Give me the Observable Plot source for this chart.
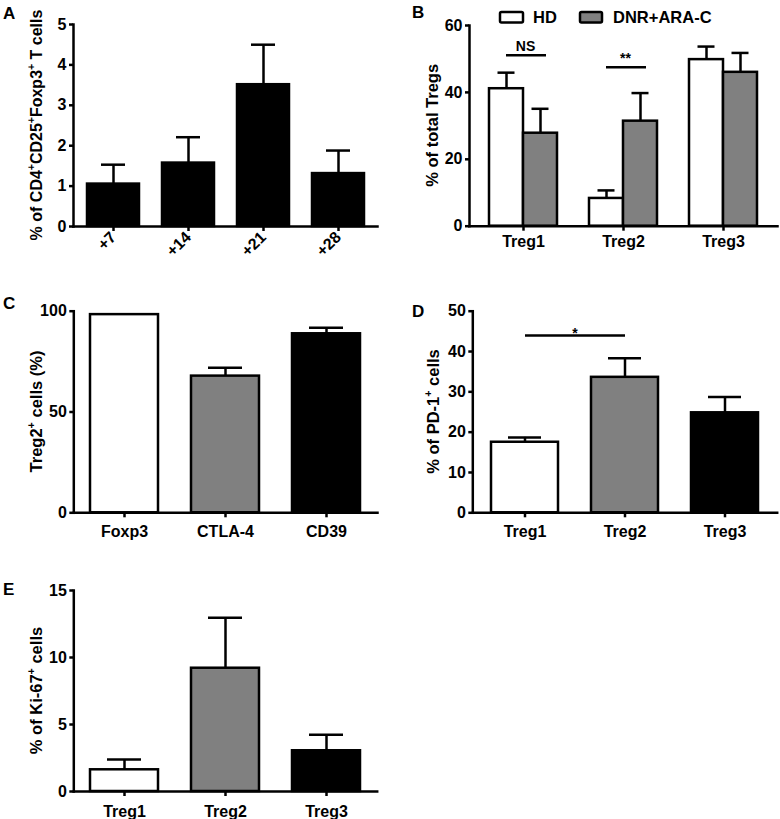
<!DOCTYPE html>
<html><head><meta charset="utf-8">
<script src="https://cdn.jsdelivr.net/npm/d3@7"></script>
<script src="https://cdn.jsdelivr.net/npm/@observablehq/plot@0.6"></script>
<style>
body{margin:0;background:#fff;}
#fig{position:relative;width:780px;height:819px;background:#fff;overflow:hidden;}
#fig svg{position:absolute;}
</style></head><body><div id="fig"></div>
<script>
// ---------- DATA ----------
// Panel A
const daysA = ["+7", "+14", "+21", "+28"];
const meanA = [1.05, 1.57, 3.51, 1.31];
const errA = [0.48, 0.64, 0.99, 0.57];
const ticksA = [0, 1, 2, 3, 4, 5];
// Panel B
const subsets = ["Treg1", "Treg2", "Treg3"];
const seriesB = ["HD", "DNR+ARA-C"];
const hdB = [41.1, 8.3, 49.8];
const hdErrB = [4.8, 2.4, 3.9];
const dnrB = [27.8, 31.4, 46.0];
const dnrErrB = [7.3, 8.4, 5.8];
const ticksB = [0, 20, 40, 60];
const sigSubsetsB = ["Treg1", "Treg2"];
const sigYB = [51.1, 47.5];
const sigLabelsB = ["NS", "**"];
// Panel C
const markersC = ["Foxp3", "CTLA-4", "CD39"];
const meanC = [98.3, 67.8, 88.8];
const errC = [null, 4.1, 3.0];
const ticksC = [0, 50, 100];
// Panel D
const meanD = [17.5, 33.6, 24.8];
const errD = [1.2, 4.7, 3.9];
const ticksD = [0, 10, 20, 30, 40, 50];
const sigFromD = "Treg1", sigToD = "Treg2", sigYD = 44.0, sigLabelD = "*";
// Panel E
const meanE = [1.62, 9.2, 3.04];
const errE = [0.77, 3.76, 1.19];
const ticksE = [0, 5, 10, 15];
// Titles
const titleA = [["% of CD4", 0], ["+", 1], ["CD25", 0], ["+", 1], ["Foxp3", 0], ["+", 1], [" T cells", 0]];
const titleB = [["% of total Tregs", 0]];
const titleC = [["Treg2", 0], ["+", 1], [" cells (%)", 0]];
const titleD = [["% of PD-1", 0], ["+", 1], [" cells", 0]];
const titleE = [["% of Ki-67", 0], ["+", 1], [" cells", 0]];
const letters = ["A", "B", "C", "D", "E"];

// ---------- STYLE ----------
const FONT = '"Liberation Sans", Arial, Helvetica, sans-serif';
const SW = 2.5;
const triColors = ["white", "#808080", "black"];
const colorsB = ["white", "#808080"];
const baseStyle = {fontFamily: FONT, fontSize: "16px", fontWeight: "bold", color: "black", background: "transparent", overflow: "visible"};
const fig = document.getElementById("fig");

function place(svg, left, top) {
  svg.style.left = left + "px";
  svg.style.top = top + "px";
  fig.appendChild(svg);
  return svg;
}
function yTitle(svg, parts, x, y, size = 16.5) {
  const t = d3.select(svg).append("text")
    .attr("transform", `translate(${x},${y}) rotate(-90)`)
    .attr("text-anchor", "middle")
    .style("font-size", size + "px").style("font-weight", "bold")
    .style("font-family", FONT).attr("fill", "black").style("white-space", "pre");
  let shifted = false;
  for (const [txt, sup] of parts) {
    const s = t.append("tspan").text(txt);
    if (sup) { s.style("font-size", (size * 0.65) + "px").attr("dy", -size * 0.42); shifted = true; }
    else if (shifted) { s.attr("dy", size * 0.42); shifted = false; }
  }
}
function axes(ticks, xOpts) {
  return [
    Plot.frame({anchor: "left", strokeWidth: SW, strokeLinecap: "square"}),
    Plot.frame({anchor: "bottom", strokeWidth: SW, strokeLinecap: "square"}),
    Plot.axisY({ticks, tickFormat: d => String(d), tickSize: 4, tickPadding: 3, strokeWidth: SW, label: null}),
    Plot.axisX({tickSize: 5, strokeWidth: SW, label: null, ...xOpts})
  ];
}
function errMarks(data, xKey, {dx = 0, capL, capR, y = "mean", e = "err"}) {
  const f = data.filter(d => d[e] != null);
  return [
    Plot.ruleX(f, {x: xKey, y1: y, y2: d => d[y] + d[e], strokeWidth: SW, dx}),
    Plot.tickY(f, {x: xKey, y: d => d[y] + d[e], strokeWidth: SW, insetLeft: capL, insetRight: capR})
  ];
}

// ---------- PANEL A ----------
const dataA = daysA.map((d, i) => ({day: d, mean: meanA[i], err: errA[i]}));
const svgA = Plot.plot({
  width: 380, height: 285, marginLeft: 73, marginTop: 24, marginBottom: 59, marginRight: 3,
  style: baseStyle,
  x: {type: "band", domain: daysA, paddingInner: 0.313, paddingOuter: 0.167},
  y: {domain: [0, 5]},
  marks: [
    ...errMarks(dataA, "day", {capL: 14, capR: 14}),
    Plot.barY(dataA, {x: "day", y: "mean", fill: "black", stroke: "black", strokeWidth: SW}),
    ...axes(ticksA, {tickRotate: -45, tickPadding: 3})
  ]
});
yTitle(svgA, titleA, 41.7, 24 + (285 - 24 - 59) / 2, 16);
place(svgA, 0, 0);

// ---------- PANEL B ----------
const dataB = subsets.map((s, i) => ({subset: s, hd: hdB[i], hdErr: hdErrB[i], dnr: dnrB[i], dnrErr: dnrErrB[i]}));
const sigB = sigSubsetsB.map((s, i) => ({subset: s, y: sigYB[i], label: sigLabelsB[i]}));
const bwB = 68;
const svgB = Plot.plot({
  width: 390, height: 285, marginLeft: 79, marginTop: 25, marginBottom: 59.3, marginRight: 3,
  style: baseStyle,
  x: {type: "band", domain: subsets, paddingInner: 0.325, paddingOuter: 0.191},
  y: {domain: [0, 60]},
  marks: [
    ...errMarks(dataB, "subset", {dx: -bwB / 4, capL: bwB / 8, capR: bwB * 5 / 8, y: "hd", e: "hdErr"}),
    ...errMarks(dataB, "subset", {dx: bwB / 4, capL: bwB * 5 / 8, capR: bwB / 8, y: "dnr", e: "dnrErr"}),
    Plot.barY(dataB, {x: "subset", y: "hd", fill: colorsB[0], stroke: "black", strokeWidth: SW, insetRight: bwB / 2}),
    Plot.barY(dataB, {x: "subset", y: "dnr", fill: colorsB[1], stroke: "black", strokeWidth: SW, insetLeft: bwB / 2}),
    Plot.tickY(sigB, {x: "subset", y: "y", strokeWidth: SW, insetLeft: 17, insetRight: 11}),
    Plot.text(sigB, {x: "subset", y: "y", text: "label", lineAnchor: "middle", dy: -9, dx: 2, fontSize: 14, fontWeight: "bold"}),
    ...axes(ticksB, {tickPadding: 4})
  ]
});
yTitle(svgB, titleB, 47.7, 25 + (285 - 25 - 59.3) / 2);
place(svgB, 390, 0);

// ---------- PANEL C ----------
const dataC = markersC.map((m, i) => ({marker: m, mean: meanC[i], err: errC[i]}));
const svgC = Plot.plot({
  width: 380, height: 270, marginLeft: 73.3, marginTop: 20.7, marginBottom: 47.7, marginRight: 3,
  style: baseStyle,
  x: {type: "band", domain: markersC, paddingInner: 0.322, paddingOuter: 0.164},
  y: {domain: [0, 100]},
  color: {domain: markersC, range: triColors},
  marks: [
    ...errMarks(dataC, "marker", {capL: 17, capR: 17}),
    Plot.barY(dataC, {x: "marker", y: "mean", fill: "marker", stroke: "black", strokeWidth: SW}),
    ...axes(ticksC, {tickPadding: 7.5})
  ]
});
yTitle(svgC, titleC, 41.7, 20.7 + (270 - 20.7 - 47.7) / 2);
place(svgC, 0, 290);

// ---------- PANEL D ----------
const dataD = subsets.map((s, i) => ({subset: s, mean: meanD[i], err: errD[i]}));
const svgD = Plot.plot({
  width: 390, height: 270, marginLeft: 82.3, marginTop: 20.7, marginBottom: 47.7, marginRight: 3.3,
  style: baseStyle,
  x: {type: "band", domain: subsets, paddingInner: 0.332, paddingOuter: 0.173},
  y: {domain: [0, 50]},
  color: {domain: subsets, range: triColors},
  marks: [
    ...errMarks(dataD, "subset", {capL: 17, capR: 17}),
    Plot.barY(dataD, {x: "subset", y: "mean", fill: "subset", stroke: "black", strokeWidth: SW}),
    Plot.link([{a: sigFromD, b: sigToD, y: sigYD}], {x1: "a", x2: "b", y1: "y", y2: "y", strokeWidth: SW}),
    Plot.text([{a: sigFromD, y: sigYD, label: sigLabelD}], {x: "a", y: "y", text: "label", lineAnchor: "middle", dx: 50, dy: -2, fontSize: 14, fontWeight: "bold"}),
    ...axes(ticksD, {tickPadding: 7.5})
  ]
});
yTitle(svgD, titleD, 48.5, 20.7 + (270 - 20.7 - 47.7) / 2);
place(svgD, 390, 290);

// ---------- PANEL E ----------
const dataE = subsets.map((s, i) => ({subset: s, mean: meanE[i], err: errE[i]}));
const svgE = Plot.plot({
  width: 380, height: 259, marginLeft: 73.3, marginTop: 30, marginBottom: 28, marginRight: 3.3,
  style: baseStyle,
  x: {type: "band", domain: subsets, paddingInner: 0.329, paddingOuter: 0.162},
  y: {domain: [0, 15]},
  color: {domain: subsets, range: triColors},
  marks: [
    ...errMarks(dataE, "subset", {capL: 17, capR: 17}),
    Plot.barY(dataE, {x: "subset", y: "mean", fill: "subset", stroke: "black", strokeWidth: SW}),
    ...axes(ticksE, {tickPadding: 9})
  ]
});
yTitle(svgE, titleE, 41.7, 30 + (259 - 30 - 28) / 2);
place(svgE, 0, 560);

// ---------- OVERLAY: panel letters + legend for B ----------
const over = d3.create("svg").attr("width", 780).attr("height", 819)
  .style("left", "0px").style("top", "0px").style("pointer-events", "none");
const letterPos = [[3, 18.5], [412, 17.5], [3, 308.5], [412, 317], [3, 595]];
letters.forEach((L, i) => {
  over.append("text").attr("x", letterPos[i][0]).attr("y", letterPos[i][1]).text(L)
    .style("font-family", FONT).style("font-weight", "bold").style("font-size", "17px").attr("fill", "black");
});
const legendPos = [[500, 23, 533], [580, 22, 613]];
seriesB.forEach((s, i) => {
  const [rx, rw, tx] = legendPos[i];
  over.append("rect").attr("x", rx).attr("y", 12).attr("width", rw).attr("height", 10.5).attr("rx", 1.5)
    .attr("fill", colorsB[i]).attr("stroke", "black").attr("stroke-width", SW);
  over.append("text").attr("x", tx).attr("y", 22.5).text(s)
    .style("font-family", FONT).style("font-weight", "bold").style("font-size", "16.5px").attr("fill", "black");
});
fig.appendChild(over.node());
</script></body></html>
